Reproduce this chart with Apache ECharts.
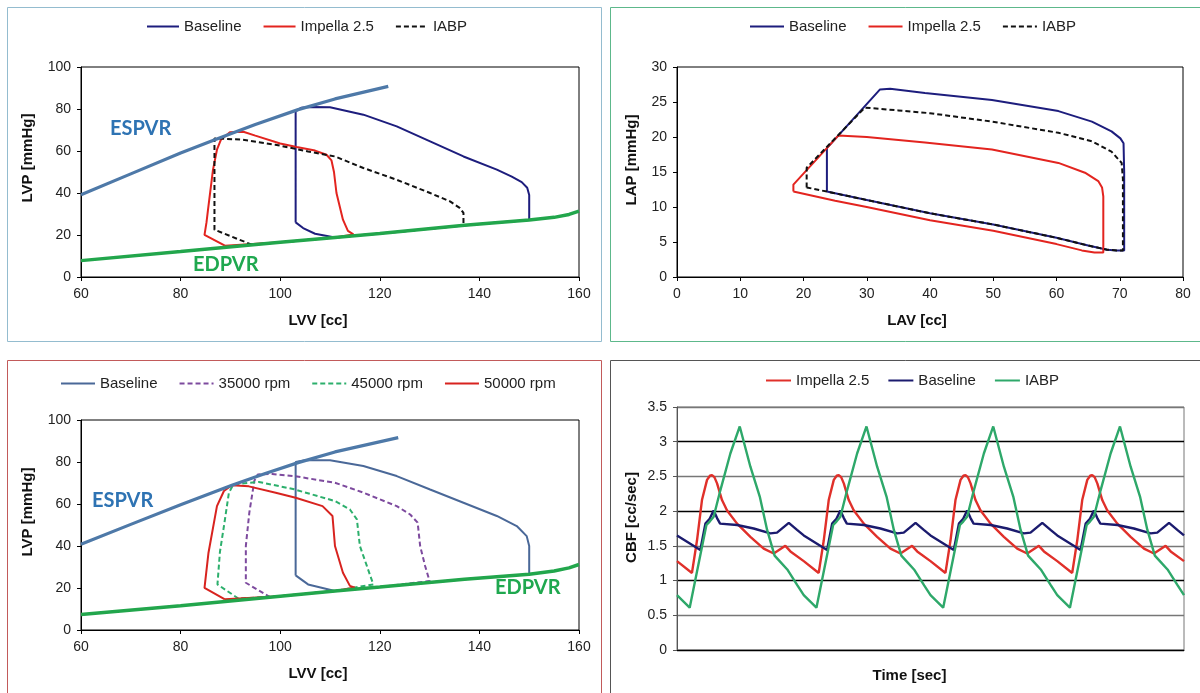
<!DOCTYPE html>
<html>
<head>
<meta charset="utf-8">
<script src="https://cdn.jsdelivr.net/npm/echarts@6/dist/echarts.min.js"></script>
<style>
html,body{margin:0;padding:0;background:#fff;}
#chart{width:1200px;height:693px;}
</style>
</head>
<body>
<div id="chart"></div>
<script>
// ---------- Panel 1: LV pressure-volume loops (Baseline / Impella 2.5 / IABP) ----------
const p1ESPVR = [[60,39.2],[70,49.1],[80,59],[87,65.5],[95,72.6],[103.6,79.7],[111,84.8],[121.7,90.8]];
const p1EDPVR = [[60,7.8],[80,12.1],[100,16.5],[111,18.8],[120,20.7],[137,24.6],[150,27.1],[155,28.4],[158,29.8],[160,31.4]];
const p1Baseline = [[103.1,26],[103.1,78.9],[104.2,80.6],[106,81],[110,80.8],[116.7,77.3],[123.4,71.7],[130.1,64.6],[136.8,57.4],[143.5,51.1],[146.5,47.8],[148.5,45.2],[149.6,42.5],[150,39],[150,27.2],[140,25.2],[130,23],[120,20.7],[111,18.8],[107,20.6],[104.6,23.3],[103.1,26]];
const p1Impella = [[88.9,14.9],[84.8,20.1],[85.2,26],[85.5,32],[86.5,51],[87.3,60.6],[88.1,65.4],[89.9,68.9],[92.6,69.2],[95,67.3],[100,63.6],[103.3,61.9],[107,60.2],[109.3,58.2],[110.3,55.5],[110.8,50],[111.3,40],[112.6,27.3],[113.6,22],[114.7,20.3],[111,18.8],[100,16.5],[88.9,14.9]];
const p1IABP = [[94.3,15.4],[86.8,22.5],[86.8,65.9],[88.3,65.9],[92.3,65.4],[99,63],[105.6,59.8],[111,57.4],[116.7,51.9],[123.4,46.3],[130.1,40],[134.1,36],[136.1,32.8],[136.8,30.5],[136.8,24.5],[120,20.7],[111,18.8],[100,16.5],[94.3,15.4]];

// ---------- Panel 2: LA pressure-volume loops ----------
const p2Baseline = [[23.7,12.2],[23.7,18.4],[32.1,26.8],[33.7,26.9],[39.2,26.3],[49.8,25.3],[60.3,23.7],[65.6,22.2],[68.7,20.8],[70.1,19.8],[70.6,19.1],[70.7,15],[70.7,3.8],[69.5,3.8],[68,3.9],[65,4.5],[60,5.6],[50,7.5],[40,9.1],[30,11.0],[23.7,12.2]];
const p2Impella = [[18.4,12.2],[18.4,13.2],[25.5,20.2],[30,20.0],[39.2,19.2],[49.8,18.2],[60.3,16.3],[64.5,14.9],[66.6,13.7],[67.2,12.8],[67.4,11.5],[67.4,3.5],[66,3.5],[64,3.8],[60,4.7],[50,6.6],[40,8.1],[30,10.0],[25,10.9],[18.4,12.2]];
const p2IABP = [[20.5,12.8],[20.5,15.6],[29.7,24.2],[35,23.8],[40,23.4],[49.8,22.2],[60.3,20.6],[65.6,19.4],[68.7,17.9],[70.3,16.3],[70.5,14],[70.5,3.8],[69.5,3.8],[68,3.9],[65,4.5],[60,5.6],[50,7.5],[40,9.1],[30,11.0],[23.7,12.2],[20.5,12.8]];

// ---------- Panel 3: LV loops vs Impella speed ----------
const p3ESPVR = [[60,40.8],[70,50.3],[80,59.6],[90.3,68.9],[97,74.5],[103.6,79.7],[111,84.8],[123.7,91.6]];
const p3EDPVR = [[60,7.4],[80,11.6],[100,16.1],[111,18.6],[120,20.5],[137,24.2],[150,26.6],[155,28.1],[158,29.6],[160,31.2]];
const p3Baseline = [[103.1,26],[103.1,80],[105,80.8],[110,80.8],[116.7,78.1],[123.4,73.3],[130.1,66.9],[136.8,60.6],[143.5,54.3],[147.5,49.5],[149.5,44.7],[150,40],[150,26.6],[137,24.2],[120,20.5],[111,18.6],[105.6,21.7],[103.1,26]];
const p3Rpm35 = [[98,15.6],[93.1,22.5],[93.1,40],[93.8,55.9],[94.8,71],[95.5,74.1],[98.4,74.3],[102.8,73.3],[111,70.1],[116.7,65.4],[123.4,59],[126.1,55],[127.6,51.1],[128.1,40],[129.1,30.5],[130,23.3],[120,20.5],[111,18.6],[100,16.1],[98,15.6]];
const p3Rpm45 = [[91.6,15.0],[87.4,21.7],[87.9,37.2],[88.8,51],[89.7,65.4],[90.6,69.3],[95.7,70.5],[102.8,67],[111,61.4],[114,57.4],[115.4,52.7],[116,40],[117.4,30.5],[118.7,21.7],[111,18.6],[100,16.1],[91.6,15.0]];
const p3Rpm50 = [[88.9,14.6],[84.8,20.1],[85.6,36.8],[87.3,59],[88.7,66.2],[90.3,68.9],[93.7,68.4],[99.1,65.4],[103.1,63],[108.5,59],[110.5,54.3],[111,40],[112.6,27.3],[114,21],[115,20.2],[111,18.6],[100,16.1],[88.9,14.6]];

// ---------- Panel 4: coronary blood flow, one cardiac cycle [phase, CBF]; the plot shows 4 cycles ----------
const cbfCycles = 4;
const cbfImpella = [[0,1.28],[0.118,1.11],[0.158,1.58],[0.197,2.16],[0.237,2.45],[0.26,2.51],[0.276,2.52],[0.295,2.49],[0.316,2.40],[0.355,2.16],[0.395,2.01],[0.474,1.82],[0.579,1.63],[0.684,1.46],[0.763,1.39],[0.855,1.50],[0.895,1.42],[1,1.28]];
const cbfBaseline = [[0,1.65],[0.184,1.44],[0.224,1.82],[0.258,1.89],[0.289,2.01],[0.316,1.9],[0.34,1.82],[0.474,1.80],[0.605,1.75],[0.737,1.68],[0.789,1.69],[0.882,1.83],[0.947,1.73],[1,1.65]];
const cbfIABP = [[0,0.79],[0.1,0.61],[0.171,1.25],[0.232,1.80],[0.258,1.85],[0.289,1.92],[0.342,2.30],[0.421,2.83],[0.495,3.22],[0.579,2.64],[0.653,2.21],[0.711,1.73],[0.77,1.36],[0.815,1.27],[0.87,1.16],[0.95,0.93],[1,0.79]];

function repeatCycle(cycle){
  const out = [];
  for (let k = 0; k < cbfCycles; k++) {
    cycle.forEach((p, i) => { if (k > 0 && i === 0) return; out.push([p[0] + k, p[1]]); });
  }
  return out;
}

const FONT = '"Liberation Sans", Arial, sans-serif';
const chart = echarts.init(document.getElementById('chart'), null, {renderer:'canvas'});

function valAxis(gi, min, max, interval, name, nameGap, pad, extra){
  return Object.assign({
    gridIndex: gi, type:'value', min, max, interval,
    axisLine:{show:true, onZero:false, lineStyle:{color:'#000', width:1}},
    axisTick:{show:true, inside:false, length:4, lineStyle:{color:'#000'}},
    axisLabel:{fontSize:14, color:'#222', fontFamily:FONT, margin:10},
    splitLine:{show:false},
    name, nameLocation:'middle', nameGap,
    nameTextStyle:{fontSize:15, fontWeight:'bold', color:'#111', fontFamily:FONT, padding:pad}
  }, extra || {});
}

function loop(name, data, gi, color, dashed, width, z){
  return {
    name, type:'line', xAxisIndex:gi, yAxisIndex:gi, data,
    symbol:'none', smooth:false, z: z || 2, animation:false,
    lineStyle:{color, width: width || 2, type: dashed ? [5,3] : 'solid'},
    itemStyle:{color}
  };
}

const legendBase = {
  orient:'horizontal', itemHeight:12, padding:0,
  itemStyle:{opacity:0},
  textStyle:{fontSize:15, color:'#222', fontFamily:FONT},
  formatter: n => n.split('#')[0]
};

const navy = '#1d1d7d', red = '#e3241f', black = '#111';
const steel = '#4e79a8', edGreen = '#22a64c';

const option = {
  backgroundColor:'#fff',
  animation:false,
  grid:[
    {left:81, top:67, width:498, height:210, show:true, borderColor:'#000', borderWidth:1, backgroundColor:'#fff'},
    {left:677, top:67, width:506, height:210, show:true, borderColor:'#000', borderWidth:1, backgroundColor:'#fff'},
    {left:81, top:420, width:498, height:210, show:true, borderColor:'#000', borderWidth:1, backgroundColor:'#fff'},
    {left:677, top:407, width:507, height:243, show:true, borderColor:'#777', borderWidth:1, backgroundColor:'#fff'}
  ],
  xAxis:[
    valAxis(0, 60, 160, 20, 'LVV [cc]', 36, [0,24,0,0]),
    valAxis(1, 0, 80, 10, 'LAV [cc]', 36, [0,26,0,0]),
    valAxis(2, 60, 160, 20, 'LVV [cc]', 36, [0,24,0,0]),
    valAxis(3, 0, cbfCycles, 1, 'Time [sec]', 18, [0,42,0,0], {
      axisTick:{show:false}, axisLabel:{show:false}
    })
  ],
  yAxis:[
    valAxis(0, 0, 100, 20, 'LVP [mmHg]', 46, [0,0,0,28]),
    valAxis(1, 0, 30, 5, 'LAP [mmHg]', 38, [0,0,0,24]),
    valAxis(2, 0, 100, 20, 'LVP [mmHg]', 46, [0,0,0,26]),
    valAxis(3, 0, 3.5, 0.5, 'CBF [cc/sec]', 38, [0,0,0,22], {
      axisLine:{show:true, onZero:false, lineStyle:{color:'#555'}},
      axisTick:{show:true, length:4, lineStyle:{color:'#555'}},
      splitLine:{show:true, lineStyle:{color:['#000','#777'], width:1.3}}
    })
  ],
  legend:[
    Object.assign({}, legendBase, {left:146, top:19, itemWidth:32, itemGap:21,
      data:['Baseline#1','Impella 2.5#1','IABP#1']}),
    Object.assign({}, legendBase, {left:749, top:19, itemWidth:34, itemGap:21,
      data:['Baseline#2','Impella 2.5#2','IABP#2']}),
    Object.assign({}, legendBase, {left:60, top:376, itemWidth:34, itemGap:21,
      data:['Baseline#3','35000 rpm#3','45000 rpm#3','50000 rpm#3']}),
    Object.assign({}, legendBase, {left:765, top:373, itemWidth:25, itemGap:18,
      data:['Impella 2.5#4','Baseline#4','IABP#4']})
  ],
  series:[
    // panel 1
    loop('Baseline#1', p1Baseline, 0, navy, false, 2),
    loop('Impella 2.5#1', p1Impella, 0, red, false, 2),
    loop('IABP#1', p1IABP, 0, black, true, 2),
    loop('ESPVR#1', p1ESPVR, 0, steel, false, 3.2, 4),
    loop('EDPVR#1', p1EDPVR, 0, edGreen, false, 3.5, 4),
    // panel 2
    loop('Baseline#2', p2Baseline, 1, navy, false, 2),
    loop('Impella 2.5#2', p2Impella, 1, red, false, 2),
    loop('IABP#2', p2IABP, 1, black, true, 2, 3),
    // panel 3
    loop('Baseline#3', p3Baseline, 2, '#4a6898', false, 2),
    loop('35000 rpm#3', p3Rpm35, 2, '#7d4a9e', true, 2),
    loop('45000 rpm#3', p3Rpm45, 2, '#2caf6c', true, 2),
    loop('50000 rpm#3', p3Rpm50, 2, '#d8231f', false, 2),
    loop('ESPVR#3', p3ESPVR, 2, steel, false, 3.2, 4),
    loop('EDPVR#3', p3EDPVR, 2, edGreen, false, 3.5, 4),
    // panel 4
    loop('Impella 2.5#4', repeatCycle(cbfImpella), 3, '#e0302a', false, 2.4),
    loop('Baseline#4', repeatCycle(cbfBaseline), 3, '#1b1b6e', false, 2.4),
    loop('IABP#4', repeatCycle(cbfIABP), 3, '#2ea86a', false, 2.4)
  ],
  graphic:[
    {type:'rect', z:-10, shape:{x:7.5, y:7.5, width:594, height:334}, style:{fill:'none', stroke:'#94bccf', lineWidth:1}},
    {type:'rect', z:-10, shape:{x:610.5, y:7.5, width:600, height:334}, style:{fill:'none', stroke:'#5db88b', lineWidth:1}},
    {type:'rect', z:-10, shape:{x:7.5, y:360.5, width:594, height:340}, style:{fill:'none', stroke:'#c25a5a', lineWidth:1}},
    {type:'rect', z:-10, shape:{x:610.5, y:360.5, width:600, height:340}, style:{fill:'none', stroke:'#555', lineWidth:1}},
    {type:'text', z:10, left:110, top:119, style:{text:'ESPVR', fill:'#2e73b3', font:'bold 20px Lato, "Open Sans", sans-serif'}},
    {type:'text', z:10, left:193, top:255, style:{text:'EDPVR', fill:'#1fa84f', font:'bold 20px Lato, "Open Sans", sans-serif'}},
    {type:'text', z:10, left:92, top:491, style:{text:'ESPVR', fill:'#2e73b3', font:'bold 20px Lato, "Open Sans", sans-serif'}},
    {type:'text', z:10, left:495, top:578, style:{text:'EDPVR', fill:'#1fa84f', font:'bold 20px Lato, "Open Sans", sans-serif'}}
  ]
};
chart.setOption(option);
</script>
</body>
</html>
